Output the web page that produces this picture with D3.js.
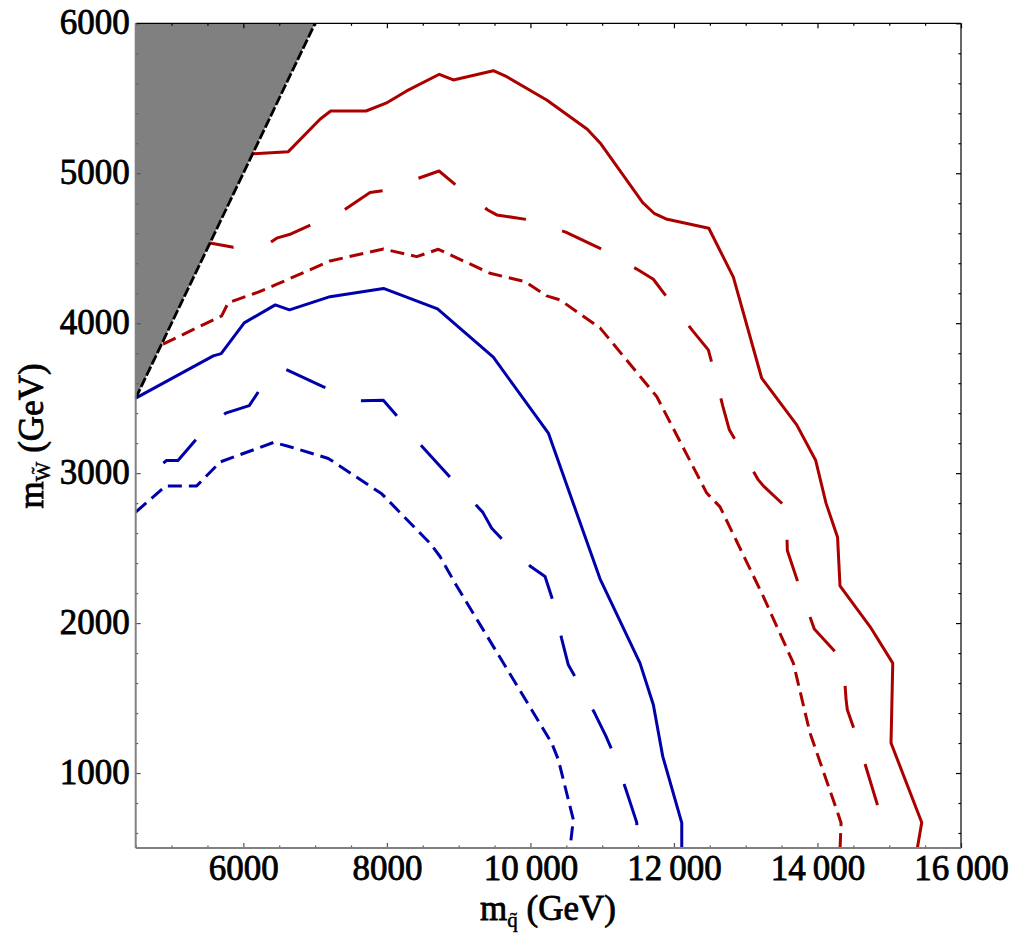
<html>
<head>
<meta charset="utf-8">
<script src="https://d3js.org/d3.v7.min.js"></script>
<style>
  body { margin: 0; background: #fff; }
</style>
</head>
<body>
<div id="chart"></div>
<script>
// contour lines, [m_squark, m_wino] in GeV
const redSolid = [[6130,5130],[6627,5144],[7068,5360],[7217,5415],[7709,5415],[7988,5467],[8276,5549],[8731,5660],[8926,5622],[9483,5684],[9670,5644],[10227,5489],[10793,5293],[10984,5195],[11565,4804],[11723,4733],[11890,4695],[12486,4633],[12828,4307],[13223,3633],[13711,3322],[13976,3084],[14119,2800],[14280,2572],[14314,2248],[14732,1977],[15049,1733],[15025,1200],[15453,670],[15392,500]]
const redLong = [[5535,4535],[5860,4507],[6362,4533],[6465,4567],[6664,4595],[6919,4651],[7403,4755],[7765,4871],[7950,4884],[8727,5015],[8973,4917],[9405,4755],[9531,4722],[9985,4689],[10492,4607],[11035,4484],[11504,4355],[11713,4293],[11936,4151],[12262,3949],[12479,3822],[12549,3700],[12680,3449],[12772,3289],[12907,3177],[13176,2955],[13246,2915],[13562,2773],[13565,2744],[13580,2484],[13771,2210],[13956,1960],[14360,1749],[14398,1493],[14416,1422],[14561,1222],[14895,693]]
const redShort = [[4880,3860],[5698,4049],[5790,4137],[6208,4207],[6469,4260],[7208,4415],[7953,4495],[8416,4444],[8717,4493],[9437,4333],[9925,4277],[10227,4182],[10413,4155],[10970,3969],[11760,3511],[12457,2867],[12642,2775],[13246,2177],[13664,1733],[13896,1267],[14291,722],[14329,667],[14315,500]]
const blueSolid = [[4500,3500],[5581,3782],[5691,3797],[6012,4002],[6445,4122],[6643,4089],[7208,4177],[7953,4232],[8706,4095],[9483,3773],[10250,3267],[10970,2295],[11527,1733],[11713,1455],[11844,1111],[12109,667],[12109,500]]
const blueLong = [[4885,3067],[4929,3084],[5089,3084],[5350,3230],[5754,3400],[6082,3450],[6221,3551],[6557,3700],[7109,3577],[7612,3483],[7950,3486],[8123,3391],[8466,3191],[8880,2973],[9252,2782],[9335,2740],[9461,2633],[9614,2555],[10004,2377],[10204,2311],[10315,2147],[10436,1895],[10528,1722],[10645,1622],[10900,1395],[11054,1244],[11155,1133],[11332,889],[11481,671],[11490,611],[11493,500]]
const blueShort = [[4500,2740],[4919,2915],[5350,2915],[5679,3075],[6423,3205],[6636,3178],[7184,3098],[7928,2862],[8601,2533],[8740,2444],[8949,2267],[10297,1200],[10389,1089],[10598,689],[10552,500]]
// excluded region: m_wino > m_squark - 1000
const excluded = [[4500,3500],[7000,6000],[4500,6000]]

const xMajor = [6000, 8000, 10000, 12000, 14000, 16000]
const yMajor = [1000, 2000, 3000, 4000, 5000, 6000]

const W = 1015, H = 935
const red = '#aa0000', blue = '#0000aa'
const font = '"Liberation Serif", "Times New Roman", serif'

let svg = d3.select('#chart').append('svg')
  .attr('width', W)
  .attr('height', H)

let x = d3.scaleLinear().domain([4500, 16000]).range([135.7, 961])
let y = d3.scaleLinear().domain([500, 6000]).range([848, 23.3])

let xMinor = d3.range(4500, 16001, 500).filter(v => v % 2000 !== 0)
let yMinor = d3.range(600, 6000, 200).filter(v => v % 1000 !== 0)

let fmt = v => v < 10000 ? String(v) : d3.format(',')(v).replace(',', '\u2009')

let line = d3.line().x(d => x(d[0])).y(d => y(d[1]))

// contours
let curves = [
  { data: redSolid, color: red, dash: null, off: 0 },
  { data: redLong, color: red, dash: '43,38', off: 19 },
  { data: redShort, color: red, dash: '14,7', off: 0 },
  { data: blueSolid, color: blue, dash: null, off: 0 },
  { data: blueLong, color: blue, dash: '43,38', off: 0 },
  { data: blueShort, color: blue, dash: '14,7', off: 0 }
]
svg.selectAll('path.contour')
  .data(curves).enter()
  .append('path')
  .attr('class', 'contour')
  .attr('d', d => line(d.data))
  .attr('fill', 'none')
  .attr('stroke', d => d.color)
  .attr('stroke-width', 3)
  .attr('stroke-linejoin', 'round')
  .attr('stroke-dasharray', d => d.dash)
  .attr('stroke-dashoffset', d => d.off)

// gray region on top
svg.append('path')
  .attr('d', line(excluded) + 'Z')
  .attr('fill', '#808080')
svg.append('path')
  .attr('d', line(excluded.slice(0, 2)))
  .attr('stroke', '#000')
  .attr('stroke-width', 2.8)
  .attr('stroke-dasharray', '10,2.5')

// axes with inward ticks
let addAxis = (axis, tx, ty, color, labels) => {
  let g = svg.append('g').attr('transform', `translate(${tx},${ty})`).call(axis)
  g.select('.domain').remove()
  g.selectAll('line').attr('stroke', color).attr('stroke-width', 1.2)
  if (!labels) g.selectAll('text').remove()
  return g
}
let bx = addAxis(d3.axisBottom(x).tickValues(xMajor).tickSize(-5).tickFormat(fmt), 0, 848, '#555', true)
addAxis(d3.axisBottom(x).tickValues(xMinor).tickSize(-2.5).tickFormat(''), 0, 848, '#555', false)
let ly = addAxis(d3.axisLeft(y).tickValues(yMajor).tickSize(-5).tickFormat(fmt), 135.7, 0, '#555', true)
addAxis(d3.axisLeft(y).tickValues(yMinor).tickSize(-2.5).tickFormat(''), 135.7, 0, '#555', false)
addAxis(d3.axisTop(x).tickValues(xMajor).tickSize(-5).tickFormat(''), 0, 23.3, '#000', false)
addAxis(d3.axisTop(x).tickValues(xMinor).tickSize(-2.5).tickFormat(''), 0, 23.3, '#000', false)
addAxis(d3.axisRight(y).tickValues(yMajor).tickSize(-5).tickFormat(''), 961, 0, '#000', false)
addAxis(d3.axisRight(y).tickValues(yMinor).tickSize(-2.5).tickFormat(''), 961, 0, '#000', false)

// slightly heavier serif text, like the original rendering
let styleText = sel => sel
  .attr('font-family', font).attr('font-size', 35).attr('fill', '#000')
  .attr('stroke', '#000').attr('stroke-width', 0.8)

bx.selectAll('text').attr('y', 32).attr('dy', null).call(styleText)
ly.selectAll('text').attr('x', -6).attr('dy', null).attr('y', 10).call(styleText)

// frame
svg.append('line').attr('x1', 135.7).attr('x2', 961).attr('y1', 23.3).attr('y2', 23.3)
  .attr('stroke', '#000').attr('stroke-width', 1.2)
svg.append('line').attr('x1', 961).attr('x2', 961).attr('y1', 23.3).attr('y2', 848)
  .attr('stroke', '#000').attr('stroke-width', 1.2)
svg.append('line').attr('x1', 135.7).attr('x2', 135.7).attr('y1', 23.3).attr('y2', 848)
  .attr('stroke', '#808080').attr('stroke-width', 2)
svg.append('line').attr('x1', 135.7).attr('x2', 961).attr('y1', 848).attr('y2', 848)
  .attr('stroke', '#808080').attr('stroke-width', 2)

// axis titles
let xt = svg.append('text')
  .attr('x', 548).attr('y', 920)
  .attr('text-anchor', 'middle')
  .call(styleText)
xt.append('tspan').text('m')
xt.append('tspan').attr('font-size', 21).attr('stroke-width', 0.5).attr('dy', 7).text('q\u0303')
xt.append('tspan').attr('dy', -7).text(' (GeV)')

let yt = svg.append('text')
  .attr('transform', 'translate(43,436) rotate(-90)')
  .attr('text-anchor', 'middle')
  .call(styleText)
yt.append('tspan').text('m')
yt.append('tspan').attr('font-size', 21).attr('stroke-width', 0.5).attr('dy', 7).text('W\u0303')
yt.append('tspan').attr('dy', -7).text(' (GeV)')
</script>
</body>
</html>
